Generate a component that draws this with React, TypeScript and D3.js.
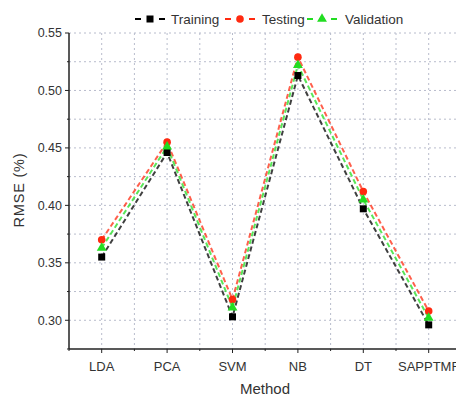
import React from "react";
import * as d3 from "d3";

const categories = ["LDA", "PCA", "SVM", "NB", "DT", "SAPPTMF"];
const training = [0.355, 0.446, 0.303, 0.513, 0.397, 0.296];
const testing = [0.370, 0.455, 0.318, 0.529, 0.412, 0.308];
const validation = [0.363, 0.451, 0.311, 0.522, 0.405, 0.302];
const yTicks = [0.3, 0.35, 0.4, 0.45, 0.5, 0.55];
const yMinor = [0.275, 0.325, 0.375, 0.425, 0.475, 0.525];
const seriesNames = ["Training", "Testing", "Validation"];

const W = 456, H = 396;
const left = 69, top = 33, bottom = 349;

export default function App() {
  const x = d3.scaleLinear().domain([-0.5, 5.5]).range([left, left + 6 * 65.4]);
  const y = d3.scaleLinear().domain([0.275, 0.55]).range([bottom, top]);
  const series = [
    { name: seriesNames[0], values: training, color: "#000000", shape: "square" },
    { name: seriesNames[1], values: testing, color: "#ff2a10", shape: "circle" },
    { name: seriesNames[2], values: validation, color: "#22dd22", shape: "triangle" },
  ];
  const line = d3.line<number>().x((_, i) => x(i)).y((d) => y(d));
  const xRight = x(5.5);
  const grid = "#b8bccc";
  const font = "Arial, 'Liberation Sans', sans-serif";
  const marker = (shape: string, cx: number, cy: number, color: string, key: string) => {
    if (shape === "square") return <rect key={key} x={cx - 3.5} y={cy - 3.5} width={7} height={7} fill={color} />;
    if (shape === "circle") return <circle key={key} cx={cx} cy={cy} r={3.8} fill={color} />;
    const s = d3.symbol(d3.symbolTriangle, 42)();
    return <path key={key} d={s || ""} transform={`translate(${cx},${cy})`} fill={color} />;
  };
  const legendItems = [
    { x0: 134, tx: 171 },
    { x0: 224, tx: 262 },
    { x0: 306, tx: 345 },
  ];
  return (
    <svg width={W} height={H} style={{ position: "absolute", left: 0, top: 0, background: "#fff" }} fontFamily={font}>
      {/* grid */}
      {[...yTicks, ...yMinor].filter((v) => v > 0.276).map((v, i) => (
        <line key={"gy" + i} x1={left} x2={xRight} y1={y(v)} y2={y(v)} stroke={grid} strokeWidth={1} strokeDasharray="2,3" />
      ))}
      {d3.range(-0.5, 5.6, 0.5).filter((v) => v > -0.4).map((v, i) => (
        <line key={"gx" + i} x1={x(v)} x2={x(v)} y1={top} y2={bottom} stroke={grid} strokeWidth={1} strokeDasharray="2,3" />
      ))}
      {/* lines */}
      {series.map((s) => (
        <path key={"l" + s.name} d={line(s.values) || ""} fill="none" stroke={s.color} strokeWidth={2} strokeDasharray="5,3" opacity={0.75} />
      ))}
      {series.map((s) => s.values.map((v, i) => marker(s.shape, x(i), y(v), s.color, s.name + i)))}
      {/* axes */}
      <line x1={left} x2={left} y1={top} y2={bottom} stroke="#222" strokeWidth={1.5} />
      <line x1={left} x2={xRight} y1={bottom} y2={bottom} stroke="#222" strokeWidth={1.5} />
      {yTicks.map((v) => (
        <g key={"yt" + v}>
          <line x1={left - 4} x2={left} y1={y(v)} y2={y(v)} stroke="#222" strokeWidth={1} />
          <text x={left - 7} y={y(v)} dy="0.35em" textAnchor="end" fontSize={12.5} fill="#333">{v.toFixed(2)}</text>
        </g>
      ))}
      {yMinor.map((v) => (
        <line key={"ym" + v} x1={left - 2} x2={left} y1={y(v)} y2={y(v)} stroke="#222" strokeWidth={1} />
      ))}
      {categories.map((c, i) => (
        <g key={"xt" + c}>
          <line x1={x(i)} x2={x(i)} y1={bottom} y2={bottom + 4} stroke="#222" strokeWidth={1} />
          <text x={x(i)} y={bottom + 22} textAnchor="middle" fontSize={13} fill="#333">{c}</text>
        </g>
      ))}
      {d3.range(-0.5, 5.6, 1).map((v) => (
        <line key={"xm" + v} x1={x(v)} x2={x(v)} y1={bottom} y2={bottom + 2} stroke="#222" strokeWidth={1} />
      ))}
      <text x={265} y={394} textAnchor="middle" fontSize={15} fill="#333">Method</text>
      <text transform={`translate(24,190) rotate(-90)`} textAnchor="middle" fontSize={14.5} letterSpacing={0.8} fill="#333">RMSE (%)</text>
      {/* legend */}
      {series.map((s, i) => (
        <g key={"lg" + s.name}>
          <line x1={legendItems[i].x0} x2={legendItems[i].x0 + 33} y1={19} y2={19} stroke={s.color} strokeWidth={2} strokeDasharray="6,6" strokeDashoffset={-1} />
          {marker(s.shape, legendItems[i].x0 + 16, 19, s.color, "lm" + i)}
          <text x={legendItems[i].tx} y={19} dy="0.35em" fontSize={13.5} fill="#333">{s.name}</text>
        </g>
      ))}
    </svg>
  );
}
